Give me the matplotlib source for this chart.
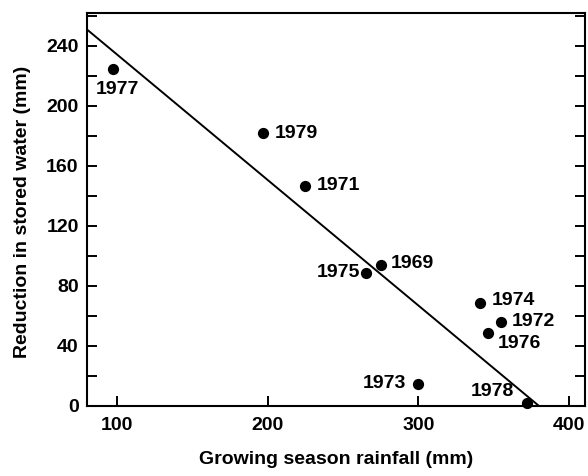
import matplotlib
matplotlib.use("Agg")
import matplotlib.pyplot as plt
from matplotlib.ticker import MultipleLocator

plt.rcParams['font.family'] = ['Liberation Sans', 'DejaVu Sans']
plt.rcParams['font.weight'] = 'bold'

years = ["1977", "1979", "1971", "1975", "1969", "1974", "1972", "1976", "1973", "1978"]
rainfall = [97, 197, 225, 265, 275, 341, 355, 346, 300, 372]
reduction = [225, 182, 147, 89, 94, 69, 56, 49, 15, 2]
# label offsets in pixels (dx, dy) and alignment
label_dx = [5, 11, 11, -6, 10, 11, 10, 10, -12, -13]
label_dy = [-21, 0, 0, 0, 1, 2, 0, -11, 0, 11]
label_ha = ["center", "left", "left", "right", "left", "left", "left", "left", "right", "right"]

fit_x = [80, 380]
fit_y = [251, 0]

fig = plt.figure(figsize=(5.88, 4.76), dpi=100)
ax = fig.add_axes([87/588, 1-406/476, (585-87)/588, (406-13)/476])

ax.plot(fit_x, fit_y, color='black', lw=1.4, solid_capstyle='butt', clip_on=False)
ax.scatter(rainfall, reduction, s=50, color='black', zorder=3, clip_on=False)

px = 0.72
for yr, x, y, dx, dy, ha in zip(years, rainfall, reduction, label_dx, label_dy, label_ha):
    ax.annotate(yr, (x, y), xytext=(dx*px, dy*px), textcoords='offset points',
                ha=ha, va='center', fontsize=14, fontweight='bold')

ax.set_xlim(80, 410.5)
ax.set_ylim(0, 262)
ax.set_xticks([100, 200, 300, 400])
ax.set_yticks([0, 40, 80, 120, 160, 200, 240])
ax.yaxis.set_minor_locator(MultipleLocator(20))
ax.tick_params(axis='both', which='both', direction='in', length=7, width=1.4,
               labelsize=14, right=True, top=False)
ax.tick_params(axis='y', which='both', pad=6)
ax.tick_params(axis='x', which='both', pad=8)
for lab in ax.get_xticklabels() + ax.get_yticklabels():
    lab.set_fontweight('bold')
for sp in ax.spines.values():
    sp.set_linewidth(1.5)

ax.set_xlabel("Growing season rainfall (mm)", fontsize=14, fontweight='bold')
ax.set_ylabel("Reduction in stored water (mm)", fontsize=14, fontweight='bold')
ax.xaxis.set_label_coords((336-87)/498, (406-451)/393)
ax.yaxis.set_label_coords((31-87)/498, (406-212)/393)

fig.savefig("out.png", dpi=100)
